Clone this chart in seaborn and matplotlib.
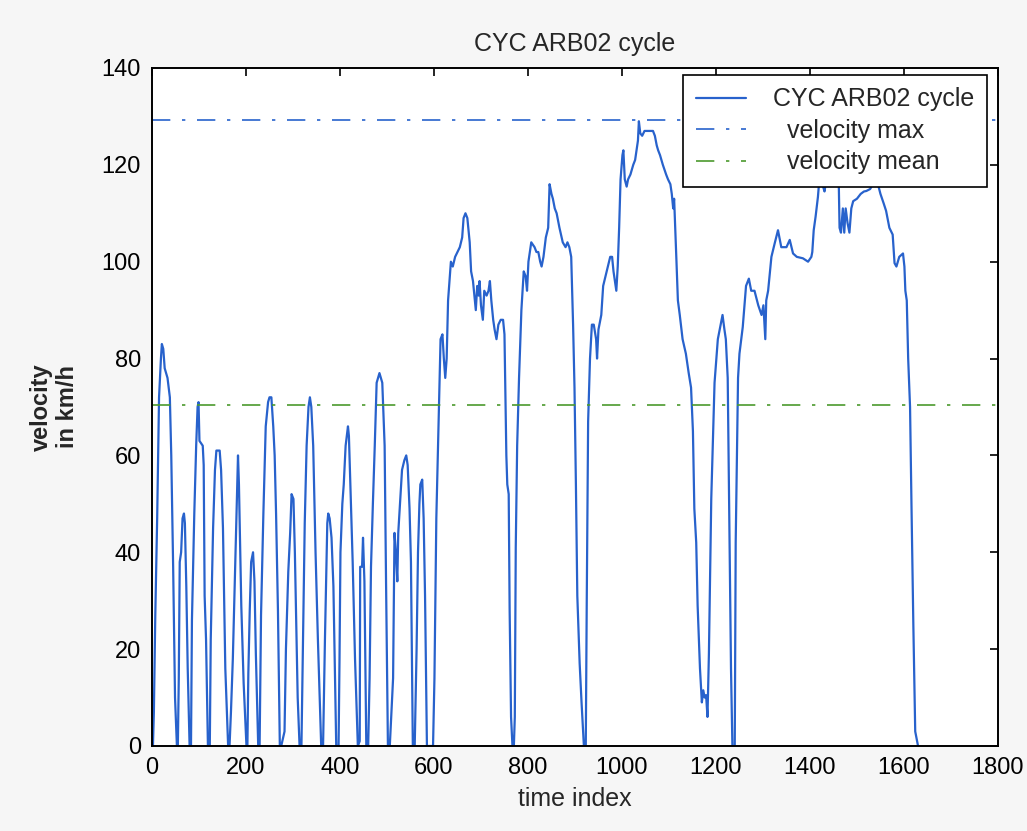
import numpy as np
import pandas as pd
import seaborn as sns
import matplotlib
matplotlib.use('Agg')
import matplotlib.pyplot as plt

# velocity trace (time index, km/h)
time_idx = [0, 2, 4, 7, 11, 15, 19, 21, 24, 27, 33, 38, 41, 45, 49, 53,
            55, 57, 59, 62, 65, 68, 70, 73, 76, 80,
            83, 85, 90, 94, 97, 99, 101, 108, 110, 112, 115, 119,
            123, 125, 130, 134, 137, 144, 147, 151, 156, 162,
            165, 168, 172, 179, 183, 185, 190, 195, 201,
            203, 205, 208, 211, 215, 218, 221, 226,
            229, 232, 237, 242, 247, 250, 254, 258, 261, 264, 268, 272,
            275, 282, 285, 290, 294, 297, 301, 304, 307, 310, 314,
            318, 321, 325, 329, 333, 336, 339, 343, 348, 353, 360,
            364, 368, 373, 375, 378, 382, 386, 392,
            397, 399, 401, 405, 408, 412, 417, 419, 422, 427, 432, 438,
            442, 443, 447, 449, 452, 456,
            460, 463, 466, 470, 474, 478, 484, 490, 495, 498, 502,
            506, 513, 516, 519, 522, 524, 527, 532, 537, 541, 544, 548, 551, 555,
            559, 561, 563, 566, 569, 571, 575, 578, 581, 585,
            598, 601, 605, 610, 614, 618, 621, 624, 627, 630, 636, 640, 645,
            650, 655, 660, 663, 667, 671, 676, 679, 683, 687, 689, 692, 695,
            697, 700, 704, 707, 712, 716, 719, 722, 726, 729, 733, 737, 742,
            747, 750, 752, 754, 756, 759, 761, 764, 767,
            770, 772, 774, 777, 781, 786, 791, 795, 798, 801, 807, 814, 818,
            822, 826, 829, 833, 838, 843, 846, 850, 853, 857, 861, 867, 874,
            880, 884, 888, 892, 896, 899, 902, 905, 910, 914, 919,
            923, 925, 928, 932, 936, 940, 945, 947, 950, 956, 960, 965, 970,
            975, 979, 982, 985, 988, 991, 994, 997, 1001, 1003, 1006, 1010,
            1013, 1018, 1024, 1028, 1031, 1034, 1036, 1039, 1043, 1048, 1055,
            1062, 1066, 1070, 1074, 1077, 1081, 1087, 1094, 1098, 1103, 1106,
            1109, 1111, 1113, 1116, 1119, 1123, 1129, 1136, 1142, 1147, 1151,
            1154, 1158, 1161, 1166, 1170, 1173, 1176, 1179, 1182, 1185, 1190,
            1197, 1204, 1209, 1214, 1218, 1221, 1225, 1229, 1232, 1235, 1240,
            1242, 1247, 1250, 1257, 1264, 1270, 1275, 1282, 1290, 1297, 1301,
            1305, 1307, 1311, 1318, 1325, 1332, 1339, 1350, 1357, 1364, 1372,
            1385, 1396, 1403, 1405, 1408, 1412, 1417, 1420, 1424, 1428, 1431,
            1434, 1440, 1448, 1455, 1461, 1463, 1466, 1470, 1473, 1476, 1480,
            1484, 1488, 1492, 1500, 1508, 1515, 1520, 1528, 1534, 1541, 1546,
            1550, 1557, 1562, 1569, 1576, 1580, 1584, 1590, 1598, 1601, 1603,
            1606, 1609, 1613, 1616, 1620, 1624, 1630]
velocity = [0, 0, 7, 27, 47, 72, 80, 83, 82, 78, 76, 72, 60, 37, 10, 0,
            0, 14, 38, 40, 47, 48, 46, 33, 16, 0,
            0, 26, 48, 62, 70, 71, 63, 62, 58, 31, 22, 0,
            0, 22, 45, 57, 61, 61, 57, 45, 16, 0,
            0, 7, 18, 45, 60, 54, 29, 13, 0,
            0, 15, 28, 38, 40, 34, 19, 0,
            0, 27, 48, 66, 71, 72, 72, 66, 60, 48, 28, 0,
            0, 3, 20, 36, 44, 52, 51, 40, 25, 10, 0,
            0, 20, 46, 62, 70, 72, 70, 62, 40, 22, 0,
            0, 22, 46, 48, 47, 43, 33, 0,
            0, 18, 40, 50, 54, 62, 66, 64, 54, 38, 18, 0,
            1, 37, 37, 43, 34, 0,
            0, 14, 37, 50, 62, 75, 77, 75, 62, 34, 0,
            0, 14, 44, 40, 34, 44, 49, 57, 59, 60, 58, 49, 38, 0,
            0, 10, 20, 40, 50, 54, 55, 47, 31, 0,
            0, 14, 47, 68, 84, 85, 80, 76, 80, 92, 100, 99, 101,
            102, 103, 105, 109, 110, 109, 104, 98, 96, 92, 90, 95, 93,
            96, 91, 88, 94, 93, 94, 96, 92, 88, 86, 84, 87, 88,
            88, 85, 73, 60, 54, 52, 28, 6, 0,
            0, 6, 41, 62, 76, 90, 98, 97, 94, 100, 104, 103, 102,
            102, 100, 99, 101, 105, 107, 116, 114, 113, 111, 110, 107, 104,
            103, 104, 103, 101, 87, 74, 54, 31, 17, 9, 0,
            0, 29, 67, 80, 87, 87, 84, 80, 86, 89, 95, 97, 99,
            101, 101, 98, 96, 94, 99, 107, 117, 122, 123, 117, 115.5,
            117, 118, 120, 121, 123, 125, 129, 126.5, 126, 127, 127,
            127, 127, 126, 124, 123, 122, 120, 118, 117, 116, 114,
            111, 113, 108, 100, 92, 89, 84, 81, 77, 74, 65,
            49, 42, 29, 16, 9, 11.5, 10, 10.5, 6, 19, 51,
            75, 84, 86.5, 89, 86, 84, 76, 42, 16, 0, 0,
            42, 76, 81, 86.5, 95, 96.5, 94, 94, 91, 89, 91,
            84, 92, 94, 101, 103.8, 106.5, 103, 103, 104.5, 101.7, 101,
            100.7, 100, 101, 102, 106.5, 109.3, 113.4, 117, 119, 115.5, 114.5,
            116.5, 119, 121, 120, 118, 107, 106, 111, 106, 111, 108,
            106, 111, 112.5, 113, 114, 114.5, 114.6, 115, 116, 116.2, 115.5,
            114, 112, 110.5, 107, 105.6, 99.7, 99, 101, 101.7, 99, 94,
            92, 80, 70, 50, 25, 3, 0]

v_max = 129.3
v_mean = 70.4

x_ticks = [0, 200, 400, 600, 800, 1000, 1200, 1400, 1600, 1800]
y_ticks = [0, 20, 40, 60, 80, 100, 120, 140]

blue = '#2862cc'
green = '#4c9a2e'

sns.set_theme(style='white')
plt.rcParams['font.family'] = ['Liberation Sans', 'DejaVu Sans']

fig = plt.figure(figsize=(10.27, 8.31), dpi=100, facecolor='#f6f6f6')
ax = fig.add_axes([0.148, 0.1023, 0.8237, 0.8159])
ax.set_facecolor('white')

cycle = pd.DataFrame({'time index': time_idx, 'velocity': velocity})
sns.lineplot(data=cycle, x='time index', y='velocity', ax=ax, sort=False,
             estimator=None, color=blue, lw=1.6, label='CYC ARB02 cycle')
ax.axhline(v_max, color=blue, lw=1.2, ls=(0, (11, 7, 2, 7)), label='  velocity max')
ax.axhline(v_mean, color=green, lw=1.2, ls=(0, (11, 7, 2, 7)), label='  velocity mean')

ax.set_xlim(0, 1800)
ax.set_ylim(0, 140)
ax.set_xticks(x_ticks)
ax.set_yticks(y_ticks)
ax.tick_params(direction='in', length=6, width=1.2, top=True, right=True,
               labelsize=17, pad=8, colors='black')
for s in ax.spines.values():
    s.set_color('black')
    s.set_linewidth(1.4)

ax.set_title('CYC ARB02 cycle', fontsize=18, pad=12)
ax.set_xlabel('time index', fontsize=18, labelpad=6)
ax.set_ylabel('velocity\nin km/h', fontsize=17, fontweight='bold', labelpad=16)

leg = ax.legend(loc='upper right', bbox_to_anchor=(0.987, 0.99), fontsize=18,
                frameon=True, fancybox=False, framealpha=1, edgecolor='black',
                borderaxespad=0, handlelength=2.0, handletextpad=1.1,
                labelspacing=0.3, borderpad=0.5)
leg.get_frame().set_linewidth(1.2)

fig.savefig('out.png', dpi=100, facecolor=fig.get_facecolor())
